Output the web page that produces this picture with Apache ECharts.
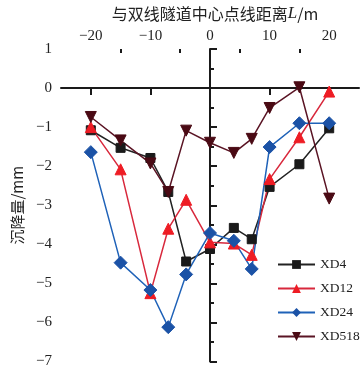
<!DOCTYPE html>
<html><head><meta charset="utf-8">
<script src="https://cdn.jsdelivr.net/npm/echarts@6/dist/echarts.min.js"></script>
<style>html,body{margin:0;padding:0;background:#fff}#c{width:361px;height:369px}</style>
</head><body><div id="c"></div>
<script>
const xs = [-20, -15, -10, -7, -4, 0, 4, 7, 10, 15, 20];
const xd4 = [-1.08, -1.53, -1.79, -2.66, -4.44, -4.12, -3.58, -3.87, -2.53, -1.95, -1.03];
const xd12 = [-1.0, -2.08, -5.25, -3.6, -2.86, -3.95, -3.98, -4.27, -2.33, -1.26, -0.09];
const xd24 = [-1.64, -4.47, -5.17, -6.12, -4.77, -3.71, -3.91, -4.63, -1.51, -0.9, -0.9];
const xd518 = [-0.74, -1.34, -1.93, -2.66, -1.09, -1.4, -1.66, -1.3, -0.51, 0.02, -2.83];
const seriesNames = ['XD4', 'XD12', 'XD24', 'XD518'];
const xMajorTicks = [-20, -10, 0, 10, 20];
const xMinorTicks = [-15, -5, 5, 15];

const fmt = v => (v < 0 ? '\u2212' + Math.abs(v) : String(v));
const pair = arr => xs.map((x, i) => [x, arr[i]]);
const serif = '"Liberation Serif","DejaVu Serif",serif';

const chart = echarts.init(document.getElementById('c'), null, {renderer: 'canvas'});
const mk = (name, data, color, lineColor, symbol, size, rot) => ({
  name, type: 'line', data: pair(data), xAxisIndex: 0,
  symbol, symbolSize: size, symbolRotate: rot || 0,
  lineStyle: {color: lineColor, width: 1.5},
  itemStyle: {color: color, borderColor: color},
  emphasis: {disabled: true}, animation: false
});
chart.setOption({
  animation: false,
  grid: {left: 61, top: 43, right: 2, bottom: 7, containLabel: false},
  xAxis: [{
    type: 'value', position: 'top', min: -25, max: 25,
    name: '{a|与双线隧道中心点线距离}{b|L}{a|/m}', nameLocation: 'middle', nameGap: 27,
    nameTextStyle: {padding: [0, 0, 0, 10], rich: {
      a: {fontFamily: '"Noto Sans CJK SC", ' + serif, fontSize: 16, color: '#222'},
      b: {fontFamily: serif, fontStyle: 'italic', fontSize: 17, color: '#222'}}},
    axisLine: {show: true, lineStyle: {color: '#1a1a1a', width: 2}},
    axisTick: {show: true, inside: true, length: 7, customValues: xMajorTicks, lineStyle: {color: '#1a1a1a', width: 2}},
    axisLabel: {customValues: xMajorTicks, formatter: fmt, fontFamily: serif, fontSize: 15, color: '#222', margin: 5},
    splitLine: {show: false}
  }, {
    type: 'value', position: 'top', min: -25, max: 25,
    axisLine: {show: false},
    axisTick: {show: true, inside: true, length: 4, customValues: xMinorTicks, lineStyle: {color: '#1a1a1a', width: 2}},
    axisLabel: {show: false}, splitLine: {show: false}
  }],
  yAxis: {
    type: 'value', min: -7, max: 1, interval: 1,
    name: '沉降量/mm', nameLocation: 'middle', nameGap: 30, nameRotate: 90,
    nameTextStyle: {fontFamily: '"Noto Sans CJK SC", ' + serif, fontSize: 15, color: '#222'},
    axisLine: {show: true, lineStyle: {color: '#1a1a1a', width: 2}},
    axisTick: {show: true, inside: true, length: 7, lineStyle: {color: '#1a1a1a', width: 2}},
    minorTick: {show: true, splitNumber: 2, length: 4, lineStyle: {color: '#1a1a1a', width: 2}},
    axisLabel: {formatter: fmt, fontFamily: serif, fontSize: 15, color: '#222', margin: 9},
    splitLine: {show: false}
  },
  legend: {
    orient: 'vertical', left: 277, top: 257, itemGap: 9, padding: 0,
    itemWidth: 37, itemHeight: 11,
    textStyle: {fontFamily: serif, fontSize: 13.5, color: '#222', lineHeight: 15},
    data: seriesNames
  },
  series: [
    mk('XD4', xd4, '#1a1a1a', '#222222', 'rect', 9),
    mk('XD12', xd12, '#ee1c24', '#d8283c', 'triangle', 11),
    mk('XD24', xd24, '#1b52a6', '#1f62b8', 'diamond', 13),
    mk('XD518', xd518, '#4a0a14', '#5a1424', 'triangle', 11, 180)
  ]
});
</script></body></html>
